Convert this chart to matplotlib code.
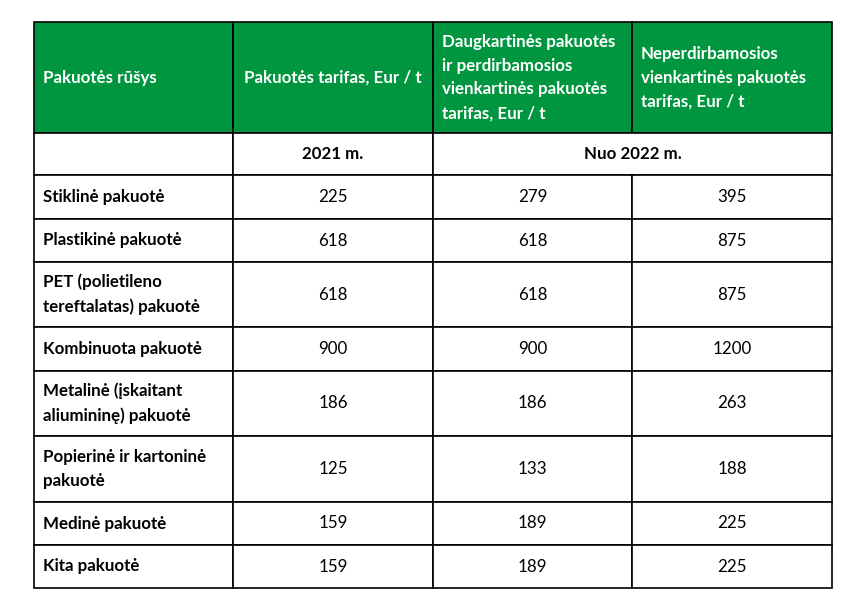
import matplotlib.pyplot as plt
from matplotlib.patches import Rectangle

plt.rcParams['font.family'] = ['Lato', 'DejaVu Sans']

# Table content
header = [
    'Pakuotės rūšys',
    'Pakuotės tarifas, Eur / t',
    'Daugkartinės pakuotės\nir perdirbamosios\nvienkartinės pakuotės\ntarifas, Eur / t',
    'Neperdirbamosios\nvienkartinės pakuotės\ntarifas, Eur / t',
]
year_2021 = '2021 m.'
year_2022 = 'Nuo 2022 m.'
packaging = [
    'Stiklinė pakuotė',
    'Plastikinė pakuotė',
    'PET (polietileno\ntereftalatas) pakuotė',
    'Kombinuota pakuotė',
    'Metalinė (įskaitant\naliumininę) pakuotė',
    'Popierinė ir kartoninė\npakuotė',
    'Medinė pakuotė',
    'Kita pakuotė',
]
tariff_2021 = [225, 618, 618, 900, 186, 125, 159, 159]
tariff_reusable = [279, 618, 618, 900, 186, 133, 189, 189]
tariff_nonrecyclable = [395, 875, 875, 1200, 263, 188, 225, 225]

# Layout in pixels
col_x = [34, 233, 433, 632, 832]
header_y = (22, 133)
year_y = (133, 175)
row_y = [175, 219, 262, 327, 371, 436, 502, 545, 588]
green = '#00963f'
fs = 12.2
lsp = 1.6

fig = plt.figure(figsize=(8.66, 6.01), dpi=100)
ax = fig.add_axes([0, 0, 1, 1])
ax.set_xlim(0, 866)
ax.set_ylim(601, 0)
ax.axis('off')


def cell(x0, x1, y0, y1, face='white'):
    ax.add_patch(Rectangle((x0, y0), x1 - x0, y1 - y0, facecolor=face,
                           edgecolor='black', linewidth=1.2))


# Header row
for i in range(4):
    cell(col_x[i], col_x[i + 1], header_y[0], header_y[1], face=green)
    ym = (header_y[0] + header_y[1]) / 2
    if i == 1:
        ax.text((col_x[1] + col_x[2]) / 2, ym, header[i], ha='center', va='center',
                color='white', fontsize=fs, fontweight='bold', linespacing=lsp)
    else:
        ax.text(col_x[i] + 9, ym, header[i], ha='left', va='center',
                color='white', fontsize=fs, fontweight='bold', linespacing=lsp)

# Year row
cell(col_x[0], col_x[1], year_y[0], year_y[1])
cell(col_x[1], col_x[2], year_y[0], year_y[1])
cell(col_x[2], col_x[4], year_y[0], year_y[1])
ym = (year_y[0] + year_y[1]) / 2
ax.text((col_x[1] + col_x[2]) / 2, ym, year_2021, ha='center', va='center',
        fontsize=fs, fontweight='bold')
ax.text((col_x[2] + col_x[4]) / 2, ym, year_2022, ha='center', va='center',
        fontsize=fs, fontweight='bold')

# Body rows
for r, name in enumerate(packaging):
    y0, y1 = row_y[r], row_y[r + 1]
    ym = (y0 + y1) / 2
    for i in range(4):
        cell(col_x[i], col_x[i + 1], y0, y1)
    ax.text(col_x[0] + 9, ym, name, ha='left', va='center', fontsize=fs,
            fontweight='bold', linespacing=lsp)
    vals = [tariff_2021[r], tariff_reusable[r], tariff_nonrecyclable[r]]
    for i, v in enumerate(vals):
        ax.text((col_x[i + 1] + col_x[i + 2]) / 2, ym, str(v), ha='center',
                va='center', fontsize=fs)

fig.savefig('out.png', dpi=100, facecolor='white')
